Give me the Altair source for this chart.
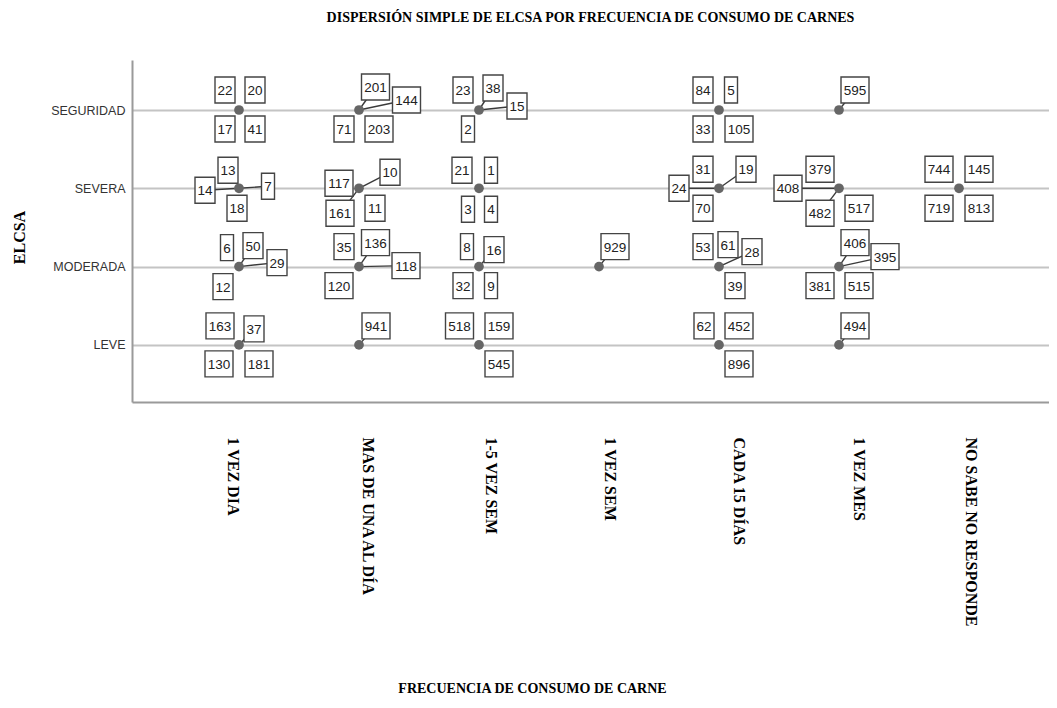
import altair as alt
import pandas as pd

# ---------------- data ----------------
FREQ = ["1 VEZ DIA", "MAS DE UNA AL DÍA", "1-5 VEZ SEM", "1 VEZ SEM",
        "CADA 15 DÍAS", "1 VEZ MES", "NO SABE NO RESPONDE"]
LEVELS = ["LEVE", "MODERADA", "SEVERA", "SEGURIDAD"]

CASE_ID = [
    22, 20, 17, 41, 201, 144, 71, 203, 23, 38, 15, 2, 84, 5, 33, 105, 595,
    13, 14, 7, 18, 117, 10, 161, 11, 21, 1, 3, 4, 31, 19, 24, 70,
    379, 408, 482, 517, 744, 145, 719, 813,
    6, 50, 29, 12, 35, 136, 118, 120, 8, 16, 32, 9, 929,
    53, 61, 28, 39, 406, 395, 381, 515,
    163, 37, 130, 181, 941, 518, 159, 545, 62, 452, 896, 494,
]
CASE_FREQ = (
    ["1 VEZ DIA"] * 4 + ["MAS DE UNA AL DÍA"] * 4 + ["1-5 VEZ SEM"] * 4
    + ["CADA 15 DÍAS"] * 4 + ["1 VEZ MES"]
    + ["1 VEZ DIA"] * 4 + ["MAS DE UNA AL DÍA"] * 4 + ["1-5 VEZ SEM"] * 4
    + ["CADA 15 DÍAS"] * 4 + ["1 VEZ MES"] * 4 + ["NO SABE NO RESPONDE"] * 4
    + ["1 VEZ DIA"] * 4 + ["MAS DE UNA AL DÍA"] * 4 + ["1-5 VEZ SEM"] * 4
    + ["1 VEZ SEM"] + ["CADA 15 DÍAS"] * 4 + ["1 VEZ MES"] * 4
    + ["1 VEZ DIA"] * 4 + ["MAS DE UNA AL DÍA"] + ["1-5 VEZ SEM"] * 3
    + ["CADA 15 DÍAS"] * 3 + ["1 VEZ MES"]
)
CASE_LEVEL = (["SEGURIDAD"] * 17 + ["SEVERA"] * 24
              + ["MODERADA"] * 21 + ["LEVE"] * 12)

# ---------------- label layout (pixel offsets of each label box from its point) ----------------
LABEL_OFFSET = {
    22: (-14, -20), 20: (16, -20), 17: (-14, 19), 41: (16, 19),
    201: (16.5, -23), 144: (47.5, -10), 71: (-15, 19), 203: (20, 19),
    23: (-16, -20), 38: (14, -22), 15: (38, -4), 2: (-11, 19),
    84: (-16, -20), 5: (12, -20), 33: (-16, 19), 105: (20, 19),
    595: (16, -20),
    13: (-11, -18), 14: (-34, 2), 7: (29, -2), 18: (-2, 20),
    117: (-20, -5), 10: (31, -16), 161: (-19, 25), 11: (16, 20),
    21: (-17, -18), 1: (12, -18), 3: (-11, 21), 4: (12, 21),
    31: (-16, -19), 19: (27, -19), 24: (-40, 0), 70: (-16, 20),
    379: (-19, -19), 408: (-51, 0), 482: (-19, 25), 517: (20, 20),
    744: (-20, -19), 145: (20, -19), 719: (-20, 20), 813: (20, 20),
    6: (-12, -19), 50: (14, -21), 29: (38, -4), 12: (-16, 20),
    35: (-15, -20), 136: (16.5, -24), 118: (47, -1), 120: (-20, 19),
    8: (-12, -20), 16: (15, -17), 32: (-16, 19), 9: (12, 19),
    929: (16, -20),
    53: (-16, -20), 61: (9, -22), 28: (33, -15), 39: (16, 19),
    406: (16, -24), 395: (46, -10), 381: (-19, 19), 515: (20, 19),
    163: (-19, -19), 37: (15, -16), 130: (-20, 19), 181: (20, 19),
    941: (17, -19),
    518: (-19.5, -19), 159: (20, -19), 545: (20, 19),
    62: (-15, -19), 452: (20, -19), 896: (20, 19),
    494: (16, -19),
}
LEADER_IDS = [201, 144, 38, 15, 14, 7, 10, 161, 24, 19, 408, 482, 50, 29,
              136, 118, 16, 28, 406, 395, 595, 941, 929, 494, 37]
BOX_W = {1: 13, 2: 20, 3: 28}
X_LABEL_SHIFT = [-7, 8, 11, 10, 19, 19, 11]

# ---------------- geometry of the plot ----------------
PLOT_W, PLOT_H = 917, 342
PX_X, PX_Y = 120.0, 78.3
X0 = -107 / PX_X
X1 = X0 + PLOT_W / PX_X
Y1 = 4 + 50 / PX_Y
Y0 = Y1 - PLOT_H / PX_Y
BOX_H = 26

rows = []
for cid, f, lv in zip(CASE_ID, CASE_FREQ, CASE_LEVEL):
    cx = FREQ.index(f)
    cy = LEVELS.index(lv) + 1
    dx, dy = LABEL_OFFSET[cid]
    w = BOX_W[len(str(cid))]
    tx = cx + dx / PX_X
    ty = cy - dy / PX_Y
    rows.append(dict(
        id=str(cid), cx=cx, cy=cy, tx=tx, ty=ty,
        bx1=tx - w / 2 / PX_X, bx2=tx + w / 2 / PX_X,
        by1=ty - BOX_H / 2 / PX_Y, by2=ty + BOX_H / 2 / PX_Y,
        leader=cid in LEADER_IDS,
    ))
df = pd.DataFrame(rows)
pts = df[["cx", "cy"]].drop_duplicates()
lead = df[df["leader"]]

xs = alt.Scale(domain=[X0, X1], nice=False, zero=False)
ys = alt.Scale(domain=[Y0, Y1], nice=False, zero=False)

freq_expr = "[" + ",".join("'" + f + "'" for f in FREQ) + "][datum.value]"
lev_expr = "['','" + "','".join(LEVELS) + "'][datum.value]"
shift_cond = [{"test": f"datum.value == {i}", "value": s}
              for i, s in enumerate(X_LABEL_SHIFT)]

SERIF = "Liberation Serif, Times New Roman, serif"
SANS = "Liberation Sans, Arial, sans-serif"

x_axis = alt.Axis(
    values=list(range(len(FREQ))), labelExpr=freq_expr, grid=False, ticks=False,
    labelAngle=90, labelAlign="left", labelBaseline="middle", labelPadding=35,
    labelOffset={"condition": shift_cond, "value": 0},
    labelFont=SERIF, labelFontWeight="bold", labelFontSize=16,
    labelColor="#000", labelLimit=0, labelOverlap=False, labelBound=False,
    domainColor="#9a9a9a", domainWidth=2,
    title="FRECUENCIA DE CONSUMO DE CARNE", titleFont=SERIF, titleFontSize=14,
    titleFontWeight="bold", titleColor="#000", titleX=400, titleY=290,
    titleAlign="center", titleBaseline="alphabetic",
)
y_axis = alt.Axis(
    values=[1, 2, 3, 4], labelExpr=lev_expr, grid=True, gridColor="#c4c4c4",
    gridWidth=2, ticks=False, labelPadding=7, labelFont=SANS, labelFontSize=12.5,
    labelColor="#333", domainColor="#9a9a9a", domainWidth=2,
    title="ELCSA", titleFont=SERIF, titleFontSize=16, titleFontWeight="bold",
    titleColor="#000", titleAngle=270, titleX=-113, titleY=177,
    titleAlign="center", titleBaseline="middle",
)

leaders = alt.Chart(lead).mark_rule(color="#3a3a3a", strokeWidth=1.4).encode(
    x=alt.X("cx:Q", scale=xs, axis=x_axis),
    y=alt.Y("cy:Q", scale=ys, axis=y_axis),
    x2="tx:Q", y2="ty:Q",
)
boxes = alt.Chart(df).mark_rect(fill="white", stroke="#444", strokeWidth=1.4).encode(
    x=alt.X("bx1:Q", scale=xs), x2="bx2:Q",
    y=alt.Y("by1:Q", scale=ys), y2="by2:Q",
)
texts = alt.Chart(df).mark_text(font=SANS, fontSize=13.5, color="#222",
                                align="center", baseline="middle", dy=1).encode(
    x=alt.X("tx:Q", scale=xs), y=alt.Y("ty:Q", scale=ys), text="id:N",
)
points = alt.Chart(pts).mark_circle(size=95, color="#666", opacity=1).encode(
    x=alt.X("cx:Q", scale=xs), y=alt.Y("cy:Q", scale=ys),
)

chart = alt.layer(leaders, boxes, texts, points).properties(
    width=PLOT_W, height=PLOT_H,
    autosize=alt.AutoSizeParams(type="none"),
    padding={"left": 124, "top": 52, "right": 0, "bottom": 292},
    title=alt.Title("DISPERSIÓN SIMPLE DE ELCSA POR FRECUENCIA DE CONSUMO DE CARNES",
                    font=SERIF, fontSize=14, fontWeight="bold", color="#000",
                    anchor="middle", offset=35),
).configure_view(stroke=None)

chart.save("out.html", embed_options={"renderer": "svg", "actions": False})
